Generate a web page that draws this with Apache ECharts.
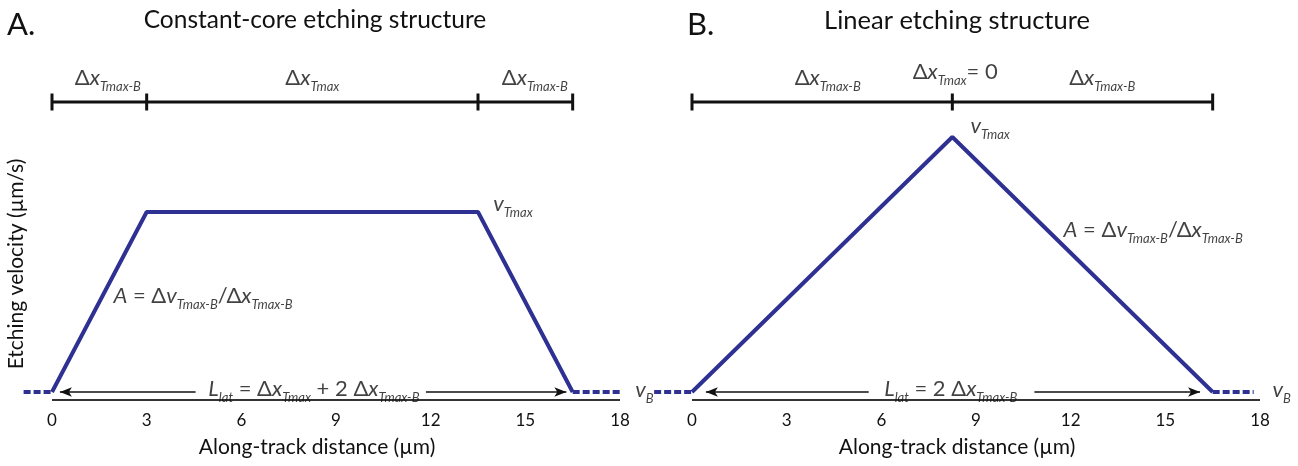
<!DOCTYPE html>
<html>
<head>
<meta charset="utf-8">
<title>Etching structures</title>
<script src="https://cdn.jsdelivr.net/npm/echarts@6/dist/echarts.min.js"></script>
<style>
  html, body { margin: 0; padding: 0; background: #fff; }
  #main { width: 1298px; height: 466px; }
</style>
</head>
<body>
<div id="main"></div>
<script>
// tick labels on both distance axes
var xTicks = [0, 3, 6, 9, 12, 15, 18];
var vB = 0.4;

// A. constant-core etching structure
var coreX = [0, 3, 13.5, 16.5];
var coreV = [vB, 9.4, 9.4, vB];
var coreSeg = [0, 3, 13.5, 16.5];
var coreBase = [[-0.9, 0], [16.5, 18]];

// B. linear etching structure
var linX = [0, 8.25, 16.5];
var linV = [vB, 13.15, vB];
var linSeg = [0, 8.25, 16.5];
var linBase = [[-1.2, 0], [16.5, 17.8]];

var FONT = 'Lato, "Open Sans", sans-serif';
var BLUE = '#2E3192';
var INK = '#111';
var barY = 14.9;
var xMin = -1.2;

var rich = {
  m: { fontSize: 22, lineHeight: 30, color: INK, fontFamily: FONT },
  i: { fontSize: 22, lineHeight: 30, color: INK, fontFamily: FONT, fontStyle: 'italic' },
  s: { fontSize: 13, lineHeight: 10, color: INK, fontFamily: FONT, fontStyle: 'italic', verticalAlign: 'bottom' }
};

function zip(xs, ys) {
  return xs.map(function (x, k) { return [x, ys[k]]; });
}

function axisPair(idx, withName) {
  return {
    x: {
      type: 'value', gridIndex: idx, min: xMin, max: 18,
      name: 'Along-track distance (µm)', nameLocation: 'middle', nameGap: 37,
      nameTextStyle: { fontSize: 21, color: INK, fontFamily: FONT },
      axisLine: { show: false },
      axisTick: { show: false },
      splitLine: { show: false },
      axisLabel: { customValues: xTicks, fontSize: 17, color: INK, margin: 12, fontFamily: FONT }
    },
    y: {
      type: 'value', gridIndex: idx, min: 0, max: 13.6, offset: -38,
      name: withName ? 'Etching velocity (µm/s)' : '', nameLocation: 'middle', nameGap: 25,
      nameTextStyle: { fontSize: 21, color: INK, fontFamily: FONT },
      axisLine: { show: false }, axisTick: { show: false },
      axisLabel: { show: false }, splitLine: { show: false }
    }
  };
}

function panelSeries(idx, px, pv, seg, base, arrows, items) {
  var out = [];
  // axis baseline from first to last tick
  out.push({
    type: 'line', xAxisIndex: idx, yAxisIndex: idx, silent: true, z: 2,
    data: [[xTicks[0], 0], [xTicks[xTicks.length - 1], 0]], symbol: 'none',
    lineStyle: { color: '#333', width: 2 }
  });
  out.push({
    type: 'line', xAxisIndex: idx, yAxisIndex: idx, data: zip(px, pv),
    symbol: 'none', clip: false, z: 3,
    lineStyle: { color: BLUE, width: 4 },
    markLine: {
      silent: true, animation: false, symbol: ['arrow', 'none'], symbolSize: [7, 12],
      lineStyle: { color: '#111', width: 1.5, type: 'solid' },
      label: { show: false },
      data: [
        [{ coord: [arrows[0], vB] }, { coord: [arrows[1], vB] }],
        [{ coord: [arrows[2], vB], symbol: 'none' }, { coord: [arrows[3], vB], symbol: 'arrow' }]
      ]
    }
  });
  base.forEach(function (b) {
    out.push({
      type: 'line', xAxisIndex: idx, yAxisIndex: idx,
      data: [[b[0], vB], [b[1], vB]], symbol: 'none', clip: false, z: 3,
      lineStyle: { color: BLUE, width: 4, type: [7, 3] }
    });
  });
  out.push({
    type: 'line', xAxisIndex: idx, yAxisIndex: idx,
    data: seg.map(function (x) { return [x, barY]; }),
    symbol: 'rect', symbolSize: [3, 17], clip: false,
    itemStyle: { color: '#111' },
    lineStyle: { color: '#111', width: 3 }
  });
  out.push({
    type: 'scatter', xAxisIndex: idx, yAxisIndex: idx, symbolSize: 1, clip: false, silent: true, z: 5,
    itemStyle: { color: 'rgba(0,0,0,0)' },
    data: items.map(function (it) {
      return {
        value: [it.x, it.y],
        label: {
          show: true, position: it.left ? 'right' : 'inside', distance: 0,
          formatter: it.t, rich: rich, fontFamily: FONT, color: INK
        }
      };
    })
  });
  return out;
}

var dxB = '{m|Δ}{i|x}{s|Tmax-B}';
var slope = '{i|A}{m| = Δ}{i|v}{s|Tmax-B}{m|/Δ}{i|x}{s|Tmax-B}';

var itemsA = [
  { x: 1.77, y: 16.1, t: dxB },
  { x: 8.25, y: 16.1, t: '{m|Δ}{i|x}{s|Tmax}' },
  { x: 15.3, y: 16.1, t: dxB },
  { x: 13.97, y: 9.8, t: '{i|v}{s|Tmax}', left: true },
  { x: 1.93, y: 5.2, t: slope, left: true },
  { x: 8.3, y: 0.55, t: '{i|L}{s|lat}{m| = Δ}{i|x}{s|Tmax}{m| + 2 Δ}{i|x}{s|Tmax-B}' },
  { x: 18.47, y: 0.5, t: '{i|v}{s|B}', left: true }
];
var itemsB = [
  { x: 4.3, y: 16.1, t: dxB },
  { x: 8.34, y: 16.4, t: '{m|Δ}{i|x}{s|Tmax}{m|= 0}' },
  { x: 13.0, y: 16.1, t: dxB },
  { x: 8.81, y: 13.7, t: '{i|v}{s|Tmax}', left: true },
  { x: 11.76, y: 8.5, t: slope, left: true },
  { x: 8.2, y: 0.55, t: '{i|L}{s|lat}{m| = 2 Δ}{i|x}{s|Tmax-B}' },
  { x: 18.38, y: 0.5, t: '{i|v}{s|B}', left: true }
];

var a0 = axisPair(0, true), a1 = axisPair(1, false);

// 31.556 px per µm, x = 0 sits at 52 px (A) and 692 px (B)
var pxPerUnit = 568 / 18;
var gridW = (18 - xMin) * pxPerUnit;
var shift = -xMin * pxPerUnit;

var titleStyle = { fontWeight: 'normal', color: INK, fontFamily: FONT };

var myChart = echarts.init(document.getElementById('main'));
myChart.setOption({
  animation: false,
  textStyle: { fontFamily: FONT },
  title: [
    { text: 'A.', left: 7, top: 9, padding: 0, textStyle: Object.assign({ fontSize: 31 }, titleStyle) },
    { text: 'Constant-core etching structure', left: 315, top: 8, padding: 0, textAlign: 'center', textStyle: Object.assign({ fontSize: 24.5 }, titleStyle) },
    { text: 'B.', left: 687, top: 9, padding: 0, textStyle: Object.assign({ fontSize: 31 }, titleStyle) },
    { text: 'Linear etching structure', left: 957, top: 8, padding: 0, textAlign: 'center', textStyle: Object.assign({ fontSize: 25.5 }, titleStyle) }
  ],
  grid: [
    { left: 52 - shift, width: gridW, top: 128, height: 272 },
    { left: 692 - shift, width: gridW, top: 128, height: 272 }
  ],
  xAxis: [a0.x, a1.x],
  yAxis: [a0.y, a1.y],
  series: [].concat(
    panelSeries(0, coreX, coreV, coreSeg, coreBase, [0.25, 4.55, 11.85, 16.3], itemsA),
    panelSeries(1, linX, linV, linSeg, linBase, [0.44, 5.6, 10.85, 16.1], itemsB)
  )
});
</script>
</body>
</html>
